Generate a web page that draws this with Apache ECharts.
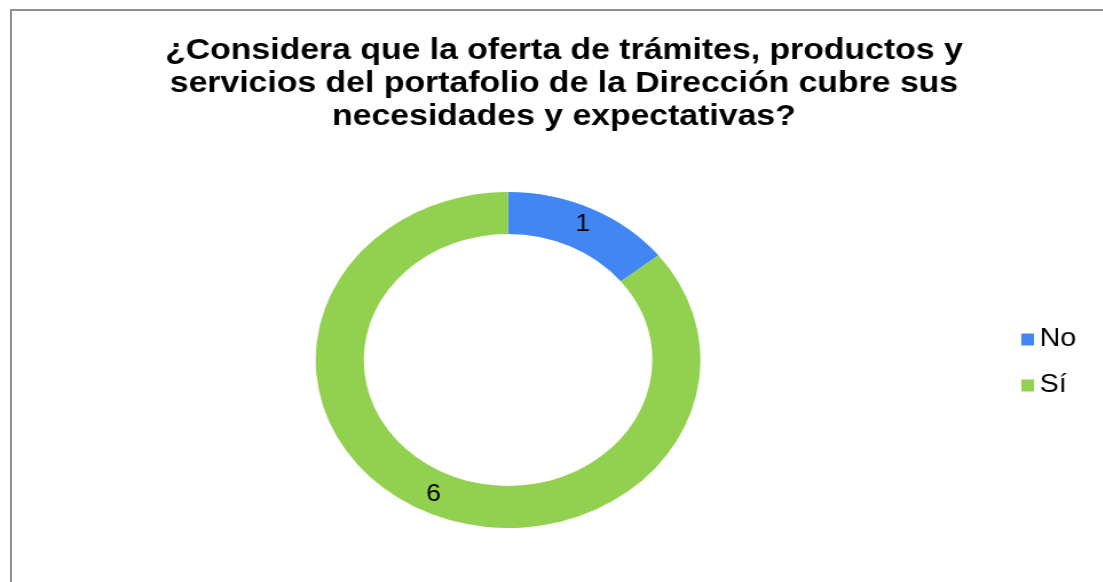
<!DOCTYPE html>
<html>
<head>
<meta charset="utf-8">
<script src="https://cdn.jsdelivr.net/npm/echarts@6/dist/echarts.min.js"></script>
<style>
  html, body { margin: 0; padding: 0; background: #ffffff; overflow: hidden; width: 1103px; height: 582px; }
  #frame { position: absolute; left: 10px; top: 9px; width: 1200px; height: 700px; border: 2px solid #8f8f8f; box-sizing: border-box; }
  #chart { position: absolute; left: 0; top: 0; width: 985px; height: 582px; transform: scaleX(1.145); transform-origin: 0 0; }
</style>
</head>
<body>
<div id="frame"></div>
<div id="chart"></div>
<script>
const titleText = '¿Considera que la oferta de trámites, productos y\nservicios del portafolio de la Dirección cubre sus\nnecesidades y expectativas?';
const categories = ['No', 'Sí'];
const values = [1, 6];
const colors = ['#4286F4', '#92D050'];

const chart = echarts.init(document.getElementById('chart'), null, { renderer: 'canvas' });
const font = "'Liberation Sans', Arial, sans-serif";

chart.setOption({
  backgroundColor: 'transparent',
  animation: false,
  title: {
    text: titleText,
    left: 'center',
    top: 29,
    textStyle: {
      fontFamily: font,
      fontSize: 29.5,
      fontWeight: 'bold',
      color: '#000000',
      lineHeight: 33
    }
  },
  legend: {
    orient: 'vertical',
    left: 887,
    top: 322,
    icon: 'rect',
    itemWidth: 11,
    itemHeight: 12,
    itemGap: 21,
    data: categories,
    textStyle: { fontFamily: font, fontSize: 25, color: '#000000', lineHeight: 25 }
  },
  series: [{
    type: 'pie',
    center: [443.7, 360],
    radius: [126, 168],
    startAngle: 90,
    clockwise: true,
    avoidLabelOverlap: false,
    itemStyle: { borderWidth: 0 },
    label: {
      show: true,
      position: 'inside',
      formatter: '{c}',
      fontFamily: font,
      fontSize: 23,
      color: '#000000'
    },
    labelLine: { show: false },
    emphasis: { disabled: true },
    data: categories.map((c, i) => ({ name: c, value: values[i], itemStyle: { color: colors[i] } }))
  }]
});
</script>
</body>
</html>
